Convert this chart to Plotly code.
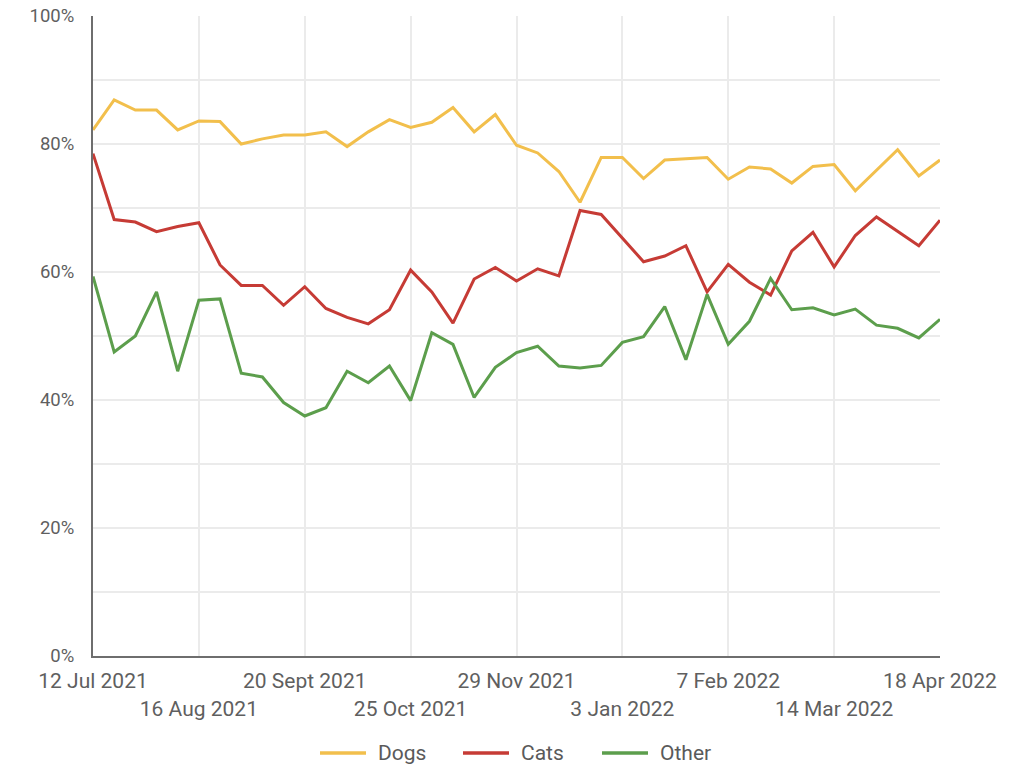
import pandas as pd
import plotly.graph_objects as go

# Weekly share (%) per pet type, week starting 12 Jul 2021 through 18 Apr 2022
week_start = "2021-07-12"
n_weeks = 41

dogs = [82.2, 86.9, 85.3, 85.3, 82.2, 83.6, 83.5, 80.0, 80.8, 81.4,
        81.4, 81.9, 79.6, 81.9, 83.8, 82.6, 83.4, 85.7, 81.9, 84.6,
        79.8, 78.6, 75.7, 70.9, 77.9, 77.9, 74.6, 77.5, 77.7, 77.9,
        74.5, 76.4, 76.1, 73.9, 76.5, 76.8, 72.7, 75.9, 79.1, 75.0, 77.5]

cats = [78.5, 68.2, 67.8, 66.3, 67.1, 67.7, 61.1, 57.9, 57.9, 54.8,
        57.7, 54.3, 52.9, 51.9, 54.1, 60.3, 56.9, 52.0, 58.9, 60.7,
        58.6, 60.5, 59.4, 69.6, 69.0, 65.3, 61.6, 62.5, 64.1, 56.9,
        61.2, 58.4, 56.4, 63.3, 66.2, 60.8, 65.7, 68.6, 66.3, 64.1, 68.1]

other = [59.3, 47.5, 50.0, 56.9, 44.5, 55.6, 55.8, 44.2, 43.6, 39.6,
         37.5, 38.8, 44.5, 42.7, 45.3, 39.9, 50.5, 48.7, 40.4, 45.1,
         47.4, 48.4, 45.3, 45.0, 45.4, 49.0, 49.9, 54.6, 46.3, 56.5,
         48.7, 52.3, 59.0, 54.1, 54.4, 53.3, 54.2, 51.7, 51.2, 49.7, 52.6]

series_names = ["Dogs", "Cats", "Other"]
series_colors = ["#F2BF4C", "#C63B35", "#5C9E4C"]

tick_dates = ["2021-07-12", "2021-08-16", "2021-09-20", "2021-10-25", "2021-11-29",
              "2022-01-03", "2022-02-07", "2022-03-14", "2022-04-18"]
tick_labels = ["12 Jul 2021", "16 Aug 2021", "20 Sept 2021", "25 Oct 2021", "29 Nov 2021",
               "3 Jan 2022", "7 Feb 2022", "14 Mar 2022", "18 Apr 2022"]

y_ticks = list(range(0, 101, 10))
y_labels = [f"{v}%" if v % 20 == 0 else "" for v in y_ticks]

weeks = pd.date_range(week_start, periods=n_weeks, freq="7D")

W, H = 1017, 766
M_L, M_R, M_T, M_B = 93, 77, 16, 110
plot_w, plot_h = W - M_L - M_R, H - M_T - M_B

fig = go.Figure()
for name, values, color in zip(series_names, [dogs, cats, other], series_colors):
    fig.add_trace(go.Scatter(
        x=weeks, y=values, name=name, mode="lines",
        line=dict(color=color, width=3), showlegend=False,
    ))

# Legend row below the axis: a short colour bar followed by the series name
legend_y = -(753 - (M_T + plot_h)) / plot_h
legend_starts = [320, 463, 602]  # left edge of each legend swatch, px
for name, color, x0 in zip(series_names, series_colors, legend_starts):
    fig.add_shape(type="line", xref="paper", yref="paper",
                  x0=(x0 - M_L) / plot_w, x1=(x0 + 46 - M_L) / plot_w,
                  y0=legend_y, y1=legend_y, line=dict(color=color, width=3.5))
    fig.add_annotation(xref="paper", yref="paper", x=(x0 + 56 - M_L) / plot_w, y=legend_y,
                       text=name, showarrow=False, xanchor="left", yanchor="middle",
                       font=dict(size=21, color="#5a5a5a"))

# alternate tick labels onto a second row so they don't collide
staggered = [lbl if i % 2 == 0 else "<br>" + lbl for i, lbl in enumerate(tick_labels)]

fig.update_layout(
    width=W, height=H,
    margin=dict(l=M_L, r=M_R, t=M_T, b=M_B),
    paper_bgcolor="white", plot_bgcolor="white",
    font=dict(family="Roboto, sans-serif", size=18, color="#5f5f5f"),
    showlegend=False,
)

fig.update_xaxes(
    range=[weeks[0], weeks[-1]],
    tickvals=pd.to_datetime(tick_dates), ticktext=staggered,
    tickfont=dict(size=21, color="#5f5f5f"),
    showgrid=True, gridcolor="#EBEBEB", gridwidth=1.5,
    showline=True, linecolor="#6E6E6E", linewidth=2,
    ticks="", tickangle=0, zeroline=False, automargin=False,
    ticklabelstandoff=5,
)
fig.update_yaxes(
    range=[0, 100],
    tickvals=y_ticks, ticktext=y_labels,
    tickfont=dict(size=18.5, color="#5f5f5f"),
    showgrid=True, gridcolor="#EBEBEB", gridwidth=1.5,
    showline=True, linecolor="#6E6E6E", linewidth=2,
    ticks="", ticklabelstandoff=13, zeroline=False, automargin=False,
)

fig.write_html("out.html")
